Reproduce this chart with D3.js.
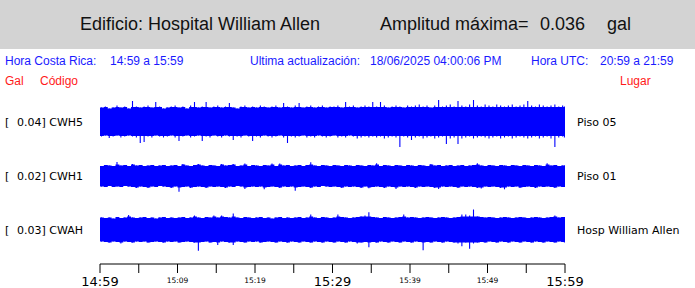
<!DOCTYPE html>
<html>
<head>
<meta charset="utf-8">
<script src="https://cdn.jsdelivr.net/npm/d3@7"></script>
<style>
  body { margin: 0; background: #fff; }
  svg text { white-space: pre; }
</style>
</head>
<body>
<div class="chart"></div>
<script>
// etiquetas y canales
const estaciones = ["CWH5", "CWH1", "CWAH"];
const maximos = ["0.04", "0.02", "0.03"];
const lugares = ["Piso 05", "Piso 01", "Hosp William Allen"];
const nucleo = [12, 9, 10.5]; // media altura de la banda densa
const tickLabels = ["14:59", "15:09", "15:19", "15:29", "15:39", "15:49", "15:59"];

// envolvente superior / inferior cada 0.5 min (0..60 min)
const cwh5Sup = [14,15,13,14,16,14,15,13,20.5,15, 14,15,16,14,19.5,15,13,14,15,16, 14,15,13,16,19.5,14,15,19.5,14,15,
  16,14,15,18.5,14,13,15,16,14,15, 14,16,15,14,15,16,14,18.5,15,14, 16,18.5,14,15,16,14,15,16,14,15,
  15,16,14,19.5,15,16,14,15,16,15, 19.5,15,19.5,16,14,15,16,15,14,16, 15,16,17,15,16,14,16,21.5,15,16,
  17,15,20.5,16,15,17,21.5,16,15,17, 16,15,17,16,15,16,17,15,16,17, 20.5,16,15,17,16,15,16,17,15,16, 15];
const cwh5Inf = [15,14,16.5,15,14,16,15,14,15,16, 21.5,20.5,15,16,14,15,16,15,14,16, 19.5,15,14,16,15,14,19.5,15,16,14,
  15,16,14,15,18.5,15,16,14,15,19.5, 15,16,14,15,16,15,14,16,21.5,15, 16,15,14,16,15,16,14,15,16,15,
  14,16,15,16,14,15,17,16,15,16, 15,16,15,17,16,15,16,25.5,15,16, 18.5,16,15,17,16,15,17,16,15,22.5,
  17,16,22.5,17,16,15,17,16,15,16, 17,16,15,17,16,15,17,16,15,16, 17,16,15,17,16,15,17,25.5,16,15, 16];
const cwh1Sup = [10,11,10.5,10,14,10.5,11,10,12,10.5, 11,10,10.5,11,10,10.5,11,10,10.5,11, 10,12,10.5,10,11,12,10.5,10,11,10.5,
  10,12,10.5,11,12,10,10.5,12.5,10,11, 10.5,10,11,10.5,12.5,10,12.5,10.5,11,10, 10.5,11,10,11,13.7,10.5,10,11,10.5,10,
  11,10.5,10,11,10.5,10,11,10.5,10,11, 10.5,12.7,10,11,10.5,10,11,10.5,10,11, 10.5,10,11,10.5,10,12,10.5,11,10,10.5,
  11,10,10.5,11,10,10.5,11,12.7,10.5,10, 11,10.5,10,11,10.5,10,11,10.5,10,11, 10.5,10,11,10.5,10,12.7,10.5,11,10,10.5, 10.5];
const cwh1Inf = [10.5,11,10,11,10.5,11,10,10.5,11,12, 10.5,11,12,10.5,11,10,10.5,11,12,10.5, 15.7,11,10.5,12,11,10.5,11,12,10.5,11,
  10.5,11,12,10.5,11,10,10.5,13,11,10.5, 11,10.5,13.3,11,10.5,11,12,10.5,11,10.5, 14.7,11,10.5,11,12,10.5,11,10,10.5,11,
  10.5,11,12,10.5,11,10.5,11,12,10.5,12.3, 11,10.5,11,12,10.5,11,13,10.5,11,10.5, 11,12,10.5,11,10.5,11,12,13,10.5,11,
  10.5,11,12,10.5,11,10.5,11,12,12.5,10.5, 11,10.5,11,12,13.3,10.5,11,10.5,12,11, 10.5,11,12,10.5,11,10.5,11,12,10.5,11, 10.5];
const cwahSup = [12,11.5,12,11,12.5,11.5,12,14.5,12,11.5, 12,12.5,11.5,12,11,12,12.5,11.5,12,11.5, 12,12.5,11.5,12,14,12,11.5,12.5,12,14,
  12,14,12.5,12,16,12,11.5,12.5,12,11.5, 12,12.5,11.5,12,11,12,12.5,11.5,12,11.5, 12,12.5,11.5,12,15,12,11.5,12.5,12,11.5,
  12,15,12.5,12,11.5,12,12.5,13,14,17.3, 12.5,12,11.5,12.5,12,11.5,12,12.5,15,12, 12.5,12,11.5,12,12.5,12,11.5,12,12.5,12,
  11.5,12,12.5,15,15,14,20,13,12.5,12, 12.5,12,11.5,12,12.5,12,11.5,12,12.5,12, 11.5,12,12.5,12,11.5,12,12.5,14,12,12.5, 12];
const cwahInf = [12,12.5,13,12,12.5,14,12,12.5,13,12, 12.5,12,13,12.5,12,12.5,13,12,12.5,12, 13,12.5,12,12.5,13,21.2,12.5,12,13,12.5,
  15.5,12,12.5,13,15.5,12,12.5,13,12,12.5, 12,13,12.5,12,12.5,13,12,12.5,13,12, 12.5,13,12,12.5,13,12,12.5,13,12,12.5,
  13,12,12.5,13,12,12.5,14,13,12.5,17.7, 12.5,13,12,12.5,13,12,12.5,13,12,12.5, 13,12,12.5,20.7,12.5,13,12,12.5,13,12,
  12.5,13,14,16.7,13,19.3,14,13,12.5,13, 12,12.5,13,12,12.5,13,12,12.5,13,12, 12.5,13,12,12.5,13,12,12.5,13,12,12.5, 13];

const superior = [cwh5Sup, cwh1Sup, cwahSup];
const inferior = [cwh5Inf, cwh1Inf, cwahInf];

const W = 695, H = 288;
const svg = d3.select(".chart").append("svg")
    .attr("width", W).attr("height", H)
    .style("display", "block")
    .style("font-family", "'Liberation Sans', Arial, sans-serif");

// cabecera gris
svg.append("rect").attr("x", 0).attr("y", 0).attr("width", W).attr("height", 49).attr("fill", "#d3d3d3");
svg.append("text").attr("x", 80).attr("y", 30).attr("font-size", 18).attr("fill", "#111")
    .text("Edificio: Hospital William Allen");
svg.append("text").attr("x", 380).attr("y", 30).attr("font-size", 18).attr("fill", "#111")
    .text("Amplitud máxima=");
svg.append("text").attr("x", 540).attr("y", 30).attr("font-size", 18).attr("fill", "#111").text("0.036");
svg.append("text").attr("x", 607).attr("y", 30).attr("font-size", 18).attr("fill", "#111").text("gal");

// fila azul
const azul = [["Hora Costa Rica:", 5], ["14:59 a 15:59", 110], ["Ultima actualización:", 250],
    ["18/06/2025 04:00:06 PM", 370], ["Hora UTC:", 531], ["20:59 a 21:59", 600]];
svg.selectAll(".azul").data(azul).join("text")
    .attr("x", d => d[1]).attr("y", 65).attr("font-size", 12).attr("fill", "#1a1aff")
    .text(d => d[0]);
const rojo = [["Gal", 5], ["Código", 40], ["Lugar", 620]];
svg.selectAll(".rojo").data(rojo).join("text")
    .attr("x", d => d[1]).attr("y", 85).attr("font-size", 12).attr("fill", "#ff1a1a")
    .text(d => d[0]);

// escalas
const n = cwh5Sup.length;
const x = d3.scaleLinear().domain([0, 60]).range([100, 565]);
const tiempo = d3.range(n).map(i => i * 0.5);
const centros = [121.5, 176, 229.5];

estaciones.forEach((st, k) => {
    const y = d3.scaleLinear().domain([-30, 30]).range([centros[k] + 30, centros[k] - 30]);
    const lim = nucleo[k] + 2.5;
    const g = svg.append("g");
    // banda densa, borde escalonado
    const banda = d3.area()
        .x(t => x(t))
        .y0((t, i) => y(-Math.min(inferior[k][i], lim)))
        .y1((t, i) => y(Math.min(superior[k][i], lim)))
        .curve(d3.curveStepAfter);
    g.append("path").datum(tiempo).attr("d", banda).attr("fill", "#0000ff");
    g.append("rect")
        .attr("x", x(0)).attr("width", x(60) - x(0))
        .attr("y", y(nucleo[k])).attr("height", y(-nucleo[k]) - y(nucleo[k]))
        .attr("fill", "#0000ff");
    // picos
    const px = t => Math.min(x(t) + 1.5, x(60) - 0.6);
    g.selectAll("line").data(tiempo).join("line")
        .attr("x1", px).attr("x2", px)
        .attr("y1", (t, i) => y(superior[k][i]))
        .attr("y2", (t, i) => y(-inferior[k][i]))
        .attr("stroke", "#0000ff").attr("stroke-width", 1.1);

    svg.append("text").attr("x", 5).attr("y", centros[k] + 4)
        .attr("font-family", "'DejaVu Sans'").attr("font-size", 11).attr("fill", "#000").text("[");
    svg.append("text").attr("x", 17).attr("y", centros[k] + 4)
        .attr("font-family", "'DejaVu Sans'").attr("font-size", 11).attr("fill", "#000").text(`${maximos[k]}] ${st}`);
    svg.append("text").attr("x", 577).attr("y", centros[k] + 4)
        .attr("font-family", "'DejaVu Sans'").attr("font-size", 11).attr("fill", "#000").text(lugares[k]);
});

// eje de tiempo
const axisY = 264;
const ticks5 = d3.range(0, 61, 5);
const ejeG = svg.append("g").attr("transform", `translate(0,${axisY})`);
ejeG.append("line").attr("x1", x(0)).attr("x2", x(60)).attr("y1", 0).attr("y2", 0).attr("stroke", "#000");
ejeG.selectAll(".tk").data(ticks5).join("line")
    .attr("x1", d => x(d)).attr("x2", d => x(d))
    .attr("y1", 0).attr("y2", 9).attr("stroke", "#000");
ejeG.selectAll(".lb").data(tickLabels).join("text")
    .attr("x", (d, i) => x(i * 10))
    .attr("y", (d, i) => i % 3 === 0 ? 22 : 19)
    .attr("text-anchor", "middle")
    .attr("font-family", "'DejaVu Sans'")
    .attr("font-size", (d, i) => i % 3 === 0 ? 13 : 7.5)
    .attr("fill", "#000")
    .text(d => d);
</script>
</body>
</html>
